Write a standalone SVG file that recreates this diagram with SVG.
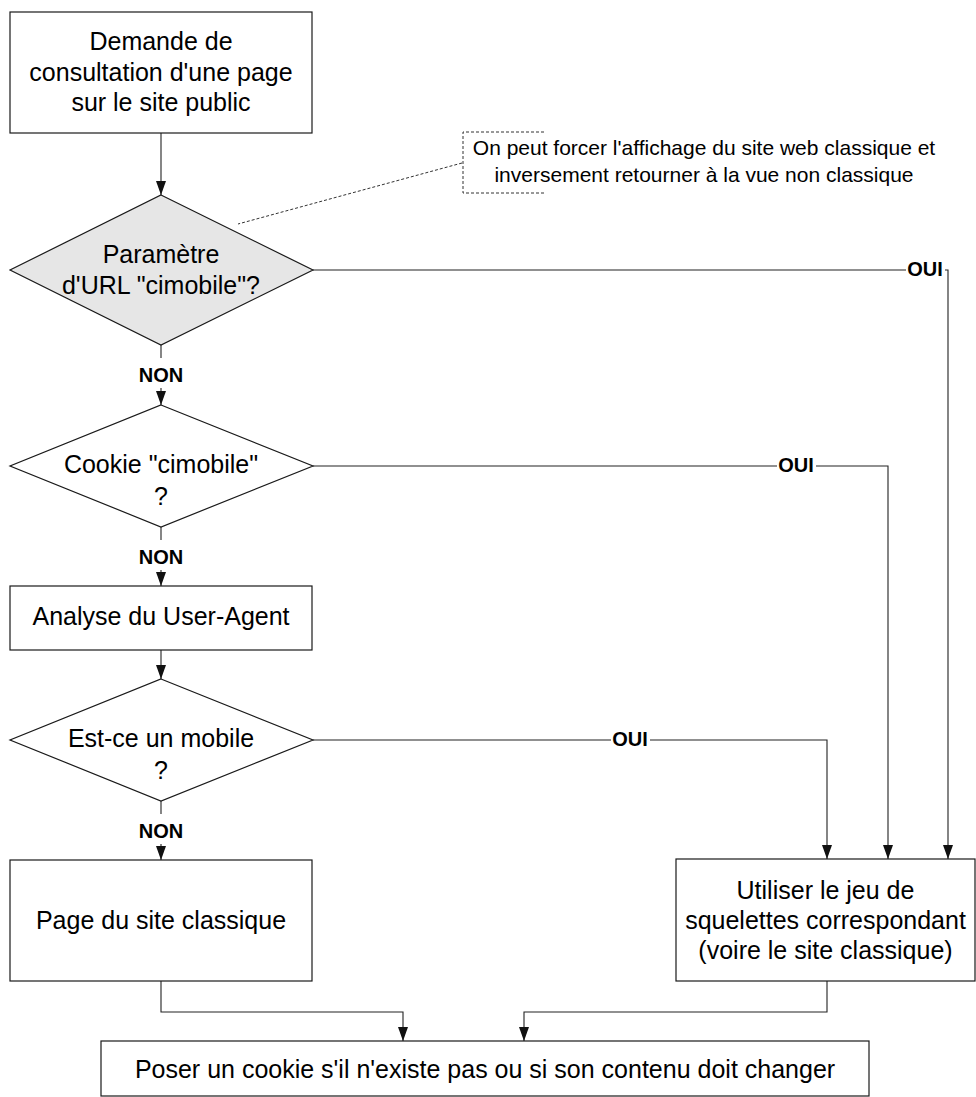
<svg xmlns="http://www.w3.org/2000/svg" width="976" height="1097" viewBox="0 0 976 1097">
  <style>
    .box { fill: #ffffff; stroke: #1a1a1a; stroke-width: 1.2; }
    .dec { fill: #ffffff; stroke: #1a1a1a; stroke-width: 1.2; }
    .dec1 { fill: #e6e6e6; stroke: #1a1a1a; stroke-width: 1.2; }
    .txt { font-family: "Liberation Sans", Arial, sans-serif; font-size: 25px; fill: #000; text-anchor: middle; }
    .note { font-family: "Liberation Sans", Arial, sans-serif; font-size: 21px; fill: #000; text-anchor: middle; }
    .lbl { font-family: "Liberation Sans", Arial, sans-serif; font-size: 20px; font-weight: bold; fill: #000; text-anchor: middle; }
    .lblbg { fill: #ffffff; stroke: none; }
    .edge { fill: none; stroke: #222; stroke-width: 1.1; }
    .arr { marker-end: url(#ah); }
    .dash { fill: none; stroke: #333; stroke-width: 1; stroke-dasharray: 3 2; }
  </style>
  <defs>
    <marker id="ah" viewBox="0 0 14 10" refX="14" refY="5" markerWidth="14" markerHeight="10" markerUnits="userSpaceOnUse" orient="auto">
      <path d="M0,0 L14,5 L0,10 z" fill="#111"/>
    </marker>
  </defs>

  <g id="connectors">
    <path class="edge arr" d="M161,133 V195"/>
    <path class="edge arr" d="M161,345 V405"/>
    <path class="edge arr" d="M161,527 V586"/>
    <path class="edge arr" d="M161,650 V679"/>
    <path class="edge arr" d="M161,801 V860"/>
    <path class="edge arr" d="M313,270 H948 V859"/>
    <path class="edge arr" d="M313,466 H888 V859"/>
    <path class="edge arr" d="M313,740 H827 V859"/>
    <path class="edge arr" d="M161,981 V1012 H403 V1041"/>
    <path class="edge arr" d="M827,981 V1012 H524 V1041"/>
    <path class="dash" d="M462,163 L238,224"/>
    <g id="label-non1"><rect class="lblbg" x="136" y="358" width="50" height="30"/><text class="lbl" x="161" y="382">NON</text></g>
    <g id="label-non2"><rect class="lblbg" x="136" y="540" width="50" height="30"/><text class="lbl" x="161" y="564">NON</text></g>
    <g id="label-non3"><rect class="lblbg" x="136" y="814" width="50" height="30"/><text class="lbl" x="161" y="838">NON</text></g>
    <g id="label-oui1"><rect class="lblbg" x="906" y="255" width="39" height="30"/><text class="lbl" x="925" y="276">OUI</text></g>
    <g id="label-oui2"><rect class="lblbg" x="777" y="451" width="39" height="30"/><text class="lbl" x="796" y="472">OUI</text></g>
    <g id="label-oui3"><rect class="lblbg" x="611" y="725" width="39" height="30"/><text class="lbl" x="630" y="746">OUI</text></g>
  </g>

  <g id="start">
    <rect class="box" x="10" y="12" width="302" height="121"/>
    <text class="txt" x="161" y="50">Demande de</text>
    <text class="txt" x="161" y="81">consultation d'une page</text>
    <text class="txt" x="161" y="111">sur le site public</text>
  </g>

  <g id="note">
    <path class="dash" d="M544,132 H463 V193 H544"/>
    <text class="note" x="704" y="155">On peut forcer l'affichage du site web classique et</text>
    <text class="note" x="704" y="182">inversement retourner à la vue non classique</text>
  </g>

  <g id="dec-param">
    <polygon class="dec1" points="161,195 313,270 161,345 10,270"/>
    <text class="txt" x="161" y="263">Paramètre</text>
    <text class="txt" x="161" y="294">d'URL "cimobile"?</text>
  </g>

  <g id="dec-cookie">
    <polygon class="dec" points="161,405 313,466 161,527 10,466"/>
    <text class="txt" x="161" y="473">Cookie "cimobile"</text>
    <text class="txt" x="161" y="505">?</text>
  </g>

  <g id="analyse">
    <rect class="box" x="10" y="586" width="302" height="64"/>
    <text class="txt" x="161" y="625">Analyse du User-Agent</text>
  </g>

  <g id="dec-mobile">
    <polygon class="dec" points="161,679 313,740 161,801 10,740"/>
    <text class="txt" x="161" y="747">Est-ce un mobile</text>
    <text class="txt" x="161" y="779">?</text>
  </g>

  <g id="classique">
    <rect class="box" x="10" y="860" width="302" height="121"/>
    <text class="txt" x="161" y="929">Page du site classique</text>
  </g>

  <g id="squelettes">
    <rect class="box" x="676" y="859" width="299" height="122"/>
    <text class="txt" x="825.5" y="899">Utiliser le jeu de</text>
    <text class="txt" x="825.5" y="929">squelettes correspondant</text>
    <text class="txt" x="825.5" y="959">(voire le site classique)</text>
  </g>

  <g id="cookie">
    <rect class="box" x="101" y="1041" width="768" height="55"/>
    <text class="txt" x="485" y="1078">Poser un cookie s'il n'existe pas ou si son contenu doit changer</text>
  </g>
</svg>
